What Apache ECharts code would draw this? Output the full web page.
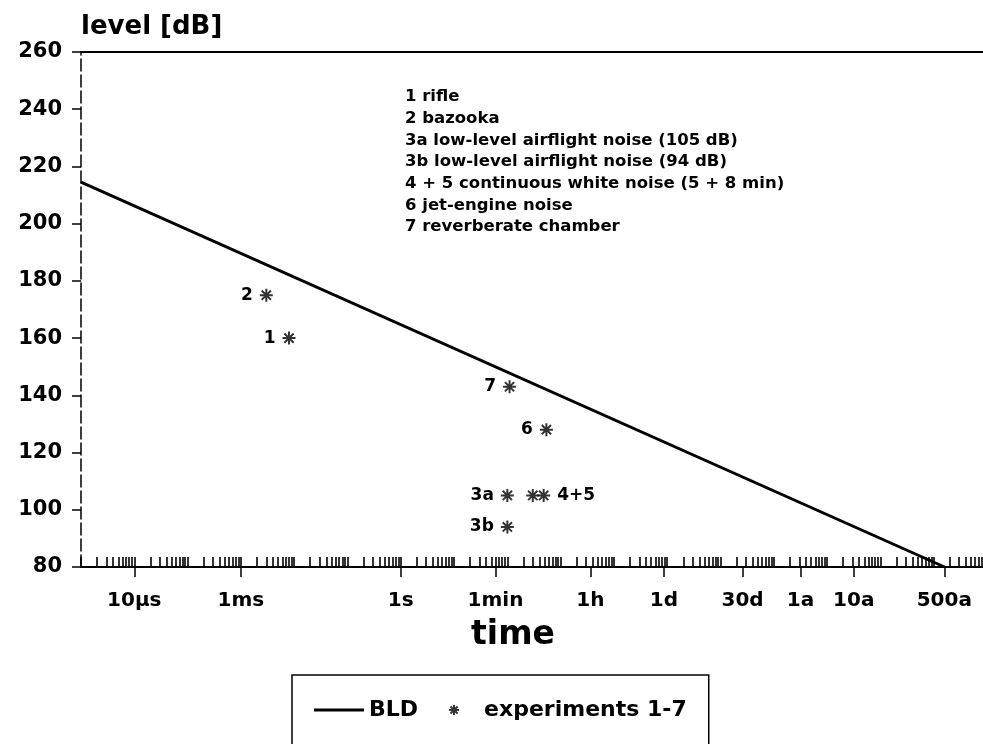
<!DOCTYPE html>
<html>
<head>
<meta charset="utf-8">
<title>Blast level duration</title>
<script src="https://cdn.jsdelivr.net/npm/echarts@6/dist/echarts.min.js"></script>
<style>
  html, body { margin: 0; padding: 0; background: #fff; }
  #chart { width: 983px; height: 744px; }
</style>
</head>
<body>
<div id="chart"></div>
<script>
// Labelled instants on the logarithmic time axis (seconds)
const timeTickSeconds = [1e-5, 1e-3, 1, 60, 3600, 86400, 2592000, 31557600, 315576000, 15778800000];
const timeTickLabels = ['10µs', '1ms', '1s', '1min', '1h', '1d', '30d', '1a', '10a', '500a'];

// Sound level axis (dB)
const levelMin = 80;
const levelMax = 260;
const levelStep = 20;

// BLD limit line: time (s) and level (dB) at both ends
const bldTime = [1e-6, 1.6e10];
const bldLevel = [214.5, 80];

// Experiments 1-7: exposure time (s) and level (dB)
const expLabels = ['1', '2', '3a', '3b', '', '4+5', '6', '7'];
const expTime = [8e-3, 3e-3, 100, 100, 300, 480, 540, 110];
const expLevel = [160, 175, 105, 94, 105, 105, 128, 143];

// Key to the experiment numbers
const keyLines = [
  '1 rifle',
  '2 bazooka',
  '3a low-level airflight noise (105 dB)',
  '3b low-level airflight noise (94 dB)',
  '4 + 5 continuous white noise (5 + 8 min)',
  '6 jet-engine noise',
  '7 reverberate chamber'
];

const FONT = '"DejaVu Sans", "Liberation Sans", sans-serif';

// Log-cycle ticks 1..9 per decade along the time axis
const cycleTicks = [];
for (let n = -6; n <= 10; n++) {
  for (let m = 1; m <= 9; m++) cycleTicks.push(m * Math.pow(10, n));
}

function timeLabel(v) {
  const lv = Math.log10(v);
  for (let i = 0; i < timeTickSeconds.length; i++) {
    if (Math.abs(Math.log10(timeTickSeconds[i]) - lv) < 1e-6) return timeTickLabels[i];
  }
  return '';
}

// asterisk marker drawn as strokes
const STAR = 'path://M7,0L7,14M0,7L14,7M2,2L12,12M2,12L12,2';
// plain stroke used as the BLD key icon
const DASH = 'path://M0,0L50,0L50,3L0,3Z';

const chart = echarts.init(document.getElementById('chart'), null, { renderer: 'canvas' });

chart.setOption({
  animation: false,
  backgroundColor: '#fff',
  textStyle: { fontFamily: FONT, fontWeight: 'bold', color: '#000' },
  grid: { left: 81, top: 52, width: 906, height: 515, outerBoundsMode: 'none', containLabel: false },
  xAxis: [
    {
      type: 'log', logBase: 10, min: 1e-6, max: 1e11, position: 'bottom',
      axisLine: { onZero: false, lineStyle: { color: '#000', width: 2 } },
      axisTick: { show: true, inside: true, length: 10, customValues: cycleTicks, lineStyle: { color: '#000', width: 1.6 } },
      axisLabel: { show: false },
      splitLine: { show: false }
    },
    {
      type: 'log', logBase: 10, min: 1e-6, max: 1e11, position: 'bottom',
      axisLine: { show: false, onZero: false },
      axisTick: { show: true, length: 10, customValues: timeTickSeconds, lineStyle: { color: '#000', width: 1.5 } },
      axisLabel: {
        customValues: timeTickSeconds, formatter: timeLabel, margin: 24,
        fontFamily: FONT, fontWeight: 'bold', fontSize: 20, color: '#000'
      },
      splitLine: { show: false },
      name: 'time', nameLocation: 'middle', nameGap: 52,
      nameTextStyle: { fontFamily: FONT, fontWeight: 'bold', fontSize: 33, color: '#000', padding: [0, 42, 0, 0] }
    },
    {
      type: 'log', logBase: 10, min: 1e-6, max: 1e11, position: 'top',
      axisLine: { show: true, onZero: false, lineStyle: { color: '#000', width: 2 } },
      axisTick: { show: false }, axisLabel: { show: false }, splitLine: { show: false }
    }
  ],
  yAxis: {
    type: 'value', min: levelMin, max: levelMax, interval: levelStep,
    axisLine: { show: true, onZero: false, lineStyle: { color: '#000', width: 1.5, type: [12, 4] } },
    axisTick: { show: true, length: 9, lineStyle: { color: '#000', width: 1.5 } },
    axisLabel: { margin: 19, fontFamily: FONT, fontWeight: 'bold', fontSize: 21, color: '#000' },
    splitLine: { show: false },
    name: 'level [dB]', nameLocation: 'end', nameGap: 12,
    nameTextStyle: { align: 'left', verticalAlign: 'bottom', fontFamily: FONT, fontWeight: 'bold', fontSize: 26, color: '#000' }
  },
  legend: {
    left: 292, top: 675,
    orient: 'horizontal',
    padding: [24, 22, 60, 22],
    itemGap: 30, itemWidth: 50, itemHeight: 10,
    borderColor: '#000', borderWidth: 1.5,
    textStyle: { fontFamily: FONT, fontWeight: 'bold', fontSize: 22, color: '#000' },
    data: [
      { name: 'BLD', icon: DASH, itemStyle: { color: '#000' } },
      { name: 'experiments 1-7' }
    ]
  },
  graphic: [
    {
      type: 'text', left: 405, top: 86,
      style: { text: keyLines.join('\n'), font: 'bold 16.5px ' + FONT, lineHeight: 21.7, fill: '#000' }
    }
  ],
  series: [
    {
      name: 'BLD', type: 'line', xAxisIndex: 0,
      data: bldTime.map((t, i) => [t, bldLevel[i]]),
      symbol: 'none', lineStyle: { color: '#000', width: 3 },
      z: 2
    },
    {
      name: 'experiments 1-7', type: 'scatter', xAxisIndex: 0,
      symbol: STAR, symbolSize: 13,
      itemStyle: { color: '#000', borderColor: '#000', borderWidth: 2 },
      data: expTime.map((t, i) => ({
        value: [t, expLevel[i]],
        label: {
          show: expLabels[i] !== '',
          formatter: expLabels[i],
          position: expLabels[i] === '4+5' ? 'right' : 'left'
        }
      })),
      label: { distance: 6, fontFamily: FONT, fontWeight: 'bold', fontSize: 17, color: '#000', textBorderWidth: 0, opacity: 1 },
      emphasis: { disabled: true },
      z: 3
    }
  ]
});
</script>
</body>
</html>
